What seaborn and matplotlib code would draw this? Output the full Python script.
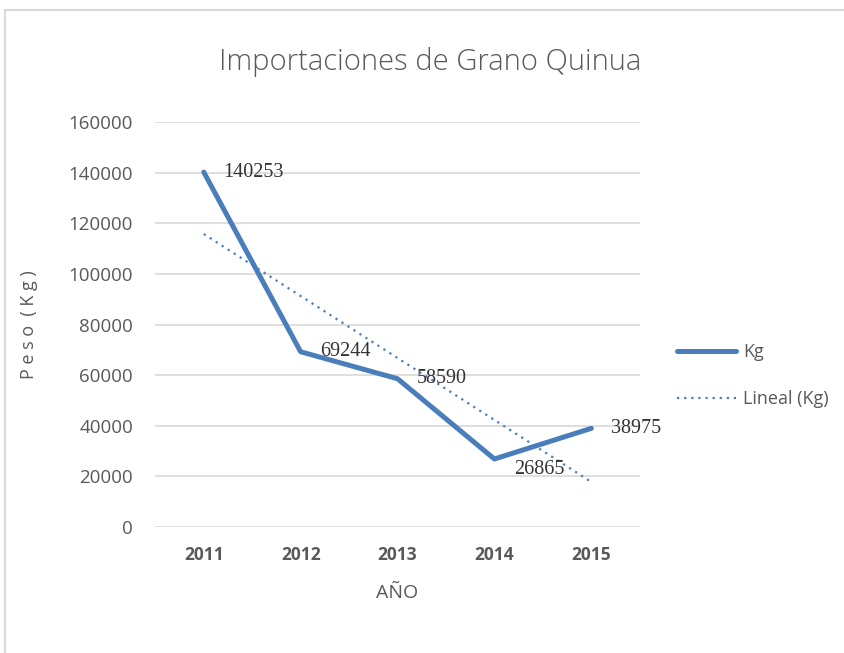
import numpy as np
import pandas as pd
import matplotlib.pyplot as plt
import seaborn as sns
from matplotlib.lines import Line2D
from matplotlib.patches import Rectangle

# --- Data ---
years = ["2011", "2012", "2013", "2014", "2015"]
kg = [140253, 69244, 58590, 26865, 38975]
yticks = [0, 20000, 40000, 60000, 80000, 100000, 120000, 140000, 160000]

df = pd.DataFrame({"Year": years, "Kg": kg})
df["pos"] = range(len(years))

# linear trend (Excel "Lineal")
slope, intercept = np.polyfit(df["pos"], df["Kg"], 1)
df["trend"] = intercept + slope * df["pos"]

sns.set_style("white")
plt.rcParams["font.family"] = ["Open Sans", "DejaVu Sans"]

blue = "#4a7ebb"
grey = "#595959"

fig = plt.figure(figsize=(8.44, 6.53), dpi=100)
ax = fig.add_axes([0.184, 0.193, 0.574, 0.62])

sns.lineplot(data=df, x="pos", y="Kg", ax=ax, color=blue, linewidth=3.6, legend=False)
sns.lineplot(data=df, x="pos", y="trend", ax=ax, color=blue, linewidth=1.6,
             linestyle=(0, (1, 2.2)), legend=False)

for x, y in zip(df["pos"], df["Kg"]):
    dy = -4000 if y < 30000 else 0
    ax.text(x + 0.2, y + dy, str(y), va="center", ha="left", fontsize=14.5,
            color="#333333", family=["Liberation Serif", "DejaVu Serif"])

ax.set_xlim(-0.5, len(years) - 0.5)
ax.set_ylim(0, 160000)
ax.set_xticks(df["pos"])
ax.set_xticklabels(years, fontsize=12.5, color=grey, fontweight="bold")
ax.set_yticks(yticks)
ax.set_yticklabels([str(t) for t in yticks], fontsize=13.5, color=grey)
ax.tick_params(length=0, pad=14)
ax.tick_params(axis="y", pad=16)
ax.grid(axis="y", color="#d9d9d9", linewidth=1.2)
ax.grid(axis="x", visible=False)
for s in ax.spines.values():
    s.set_visible(False)

ax.set_xlabel("AÑO", fontsize=14, color=grey, labelpad=14)
ax.set_ylabel("P e s o  ( K g )", fontsize=13, color=grey, labelpad=22)
fig.text(0.51, 0.905, "Importaciones de Grano Quinua", ha="center", va="center",
         fontsize=21, color=grey, fontweight="light")

handles = [Line2D([], [], color=blue, linewidth=3.6),
           Line2D([], [], color=blue, linewidth=1.6, linestyle=(0, (1, 2.2)))]
fig.legend(handles, ["Kg", "Lineal (Kg)"], loc="center left",
           bbox_to_anchor=(0.802, 0.425), frameon=False, fontsize=13,
           labelcolor=grey, handlelength=3.3, handletextpad=0.35,
           labelspacing=1.6, borderaxespad=0, borderpad=0)

fig.patches.append(Rectangle((0.006, -0.01), 1.0, 0.995, transform=fig.transFigure,
                             fill=False, edgecolor="#d9d9d9", linewidth=1.5))

fig.savefig("out.png", dpi=100)
